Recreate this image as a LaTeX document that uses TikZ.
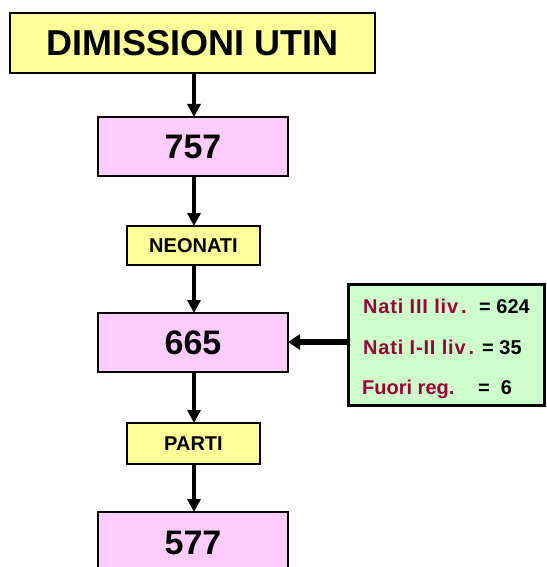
\documentclass[tikz,border=0pt]{standalone}
\usepackage{fontspec}
\setmainfont{Liberation Sans}
\usetikzlibrary{arrows.meta}
\definecolor{yel}{HTML}{FFFF99}
\definecolor{pnk}{HTML}{FFCCFF}
\definecolor{grn}{HTML}{CCFFCC}
\definecolor{dred}{HTML}{990033}
\tikzset{
  box/.style={draw=black, line width=2.5pt, inner sep=0pt, outer sep=0pt},
  bigbox/.style={box, fill=pnk, minimum width=190pt, minimum height=59pt, font=\bfseries\fontsize{34}{38}\selectfont},
  smallbox/.style={box, fill=yel, minimum width=133pt, minimum height=40pt, font=\bfseries\fontsize{20}{24}\selectfont},
  varrow/.style={line width=4.5pt, -{Triangle[width=13pt,length=13pt]}},
  harrow/.style={line width=6.5pt, -{Triangle[width=15pt,length=12pt]}},
  lbl/.style={anchor=base west, inner sep=0pt, font=\bfseries\fontsize{20}{24}\selectfont},
  red/.style={lbl, text=dred}
}
\begin{document}
\begin{tikzpicture}[x=1pt,y=-1pt]
\useasboundingbox (0,0) rectangle (546,567);
\clip (0,0) rectangle (546,567);
\node[box, fill=yel, minimum width=365pt, minimum height=60pt, font=\bfseries\fontsize{36}{40}\selectfont] (dim) at (192.5,43) {DIMISSIONI UTIN};
\node[bigbox] (n757) at (193,146.5) {757};
\node[smallbox, minimum height=39pt] (neo) at (193.5,245.5) {NEONATI};
\node[bigbox] (n665) at (193,342.5) {665};
\node[smallbox, minimum height=41pt] (parti) at (193.5,443.5) {PARTI};
\node[bigbox, minimum height=62pt] (n577) at (193,543) {577};
\node[box, fill=grn, line width=3pt, minimum width=196pt, minimum height=121pt] (grn) at (446,344.5) {};
\node[red] (t1) at (363,313) {\addfontfeature{LetterSpace=4}Nati III liv\hspace{3pt}.};
\node[lbl] (v1) at (479,313) {= 624};
\node[red] (t2) at (363,354) {\addfontfeature{LetterSpace=4}Nati I-II liv\hspace{3pt}.};
\node[lbl] (v2) at (482,354) {= 35};
\node[red] (t3) at (362,394) {Fuori reg.};
\node[lbl] (v3) at (478,394) {=\ \ 6};
\draw[varrow] (dim.south -| 194,0) -- (n757.north -| 194,0);
\draw[varrow] (n757.south -| 194,0) -- (neo.north -| 194,0);
\draw[varrow] (neo.south -| 194,0) -- (n665.north -| 194,0);
\draw[varrow] (n665.south -| 194,0) -- (parti.north -| 194,0);
\draw[varrow] (parti.south -| 194,0) -- (n577.north -| 194,0);
\draw[harrow] (grn.west |- 0,342) -- (n665.east |- 0,342);
\end{tikzpicture}
\end{document}
